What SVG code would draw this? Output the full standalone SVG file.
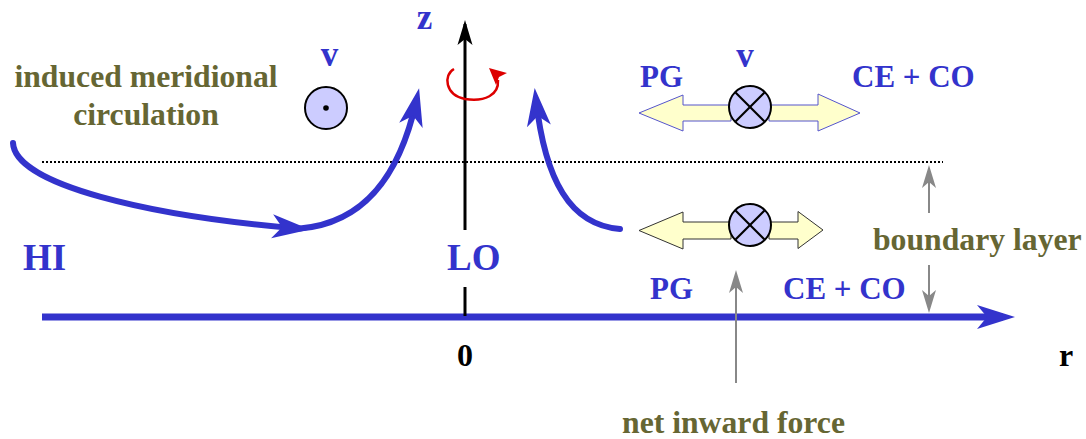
<svg xmlns="http://www.w3.org/2000/svg" width="1086" height="439" viewBox="0 0 1086 439">
<style>
text{font-family:"Liberation Serif","Times New Roman",serif;font-weight:bold}
.olive{fill:#666633;font-size:31.7px}
.blue{fill:#3333cc;font-size:31px}
.big{fill:#3333cc;font-size:37px}
.sym{fill:#3333cc;font-size:35px}
.blk{fill:#000;font-size:32px}
.flow{fill:none;stroke:#3333cc;stroke-width:6;stroke-linecap:round}
.gray{fill:none;stroke:#888;stroke-width:2}
.vel{fill:#ccccff;stroke:#000;stroke-width:2}
.cross{stroke:#000;stroke-width:2.2}
.arT{fill:#ffffcc;stroke:#5555cc;stroke-width:1}
.arB{fill:#ffffcc;stroke:#333;stroke-width:1}
</style>
<defs>
<marker id="bh" markerUnits="userSpaceOnUse" orient="auto" markerWidth="40" markerHeight="30" refX="0" refY="0" overflow="visible">
<path d="M12,0 L-26,-12 L-16,0 L-26,12 Z" fill="#3333cc"/>
</marker>
<marker id="kh" markerUnits="userSpaceOnUse" orient="auto" markerWidth="30" markerHeight="20" refX="0" refY="0" overflow="visible">
<path d="M4,0 L-21,-7.5 L-15,0 L-21,7.5 Z" fill="#000"/>
</marker>
<marker id="gh" markerUnits="userSpaceOnUse" orient="auto" markerWidth="30" markerHeight="20" refX="0" refY="0" overflow="visible">
<path d="M3,0 L-20,-7 L-14,0 L-20,7 Z" fill="#888"/>
</marker>
</defs>
<rect width="1086" height="439" fill="#fff"/>

<g id="connectors">
<line x1="42" y1="162" x2="943" y2="162" stroke="#000" stroke-width="2" stroke-dasharray="2,2"/>
<line id="r-axis" x1="42" y1="317" x2="1003" y2="317" stroke="#3333cc" stroke-width="7" marker-end="url(#bh)"/>
<line id="z-axis" x1="465" y1="230" x2="465" y2="24" stroke="#000" stroke-width="3" marker-end="url(#kh)"/>
<line x1="465" y1="287" x2="465" y2="316" stroke="#000" stroke-width="3"/>
<path class="flow" d="M13,143 C15,185 150,216 298,228.5" marker-end="url(#bh)"/>
<path class="flow" d="M300,228.5 C365,223 400,175 416.5,100" marker-end="url(#bh)"/>
<path class="flow" d="M620,229 C570,225 545,180 536,100" marker-end="url(#bh)"/>
<path d="M454,69 C443,75 445,95 465,99 C485,102 499,95 498,80" fill="none" stroke="#dd0000" stroke-width="2.5"/>
<polygon points="489,68 507,73 499,77 496,85" fill="#dd0000"/>
<line class="gray" x1="929" y1="213" x2="929" y2="168" marker-end="url(#gh)"/>
<line class="gray" x1="929" y1="265" x2="929" y2="310" marker-end="url(#gh)"/>
<line class="gray" x1="736" y1="383" x2="736" y2="273" marker-end="url(#gh)"/>
</g>

<g id="label-circulation">
<text class="olive" x="146" y="87" text-anchor="middle">induced meridional</text>
<text class="olive" x="146" y="125" text-anchor="middle">circulation</text>
</g>

<g id="node-v-out">
<text class="sym" x="329.5" y="66" text-anchor="middle">v</text>
<circle class="vel" cx="326" cy="108" r="21"/>
<circle cx="326" cy="108" r="2.8" fill="#000"/>
</g>

<g id="label-z"><text class="sym" x="424.5" y="29" text-anchor="middle">z</text></g>

<g id="node-forces-top">
<text class="blue" x="640" y="87">PG</text>
<text class="sym" x="745" y="67" text-anchor="middle">v</text>
<text class="blue" x="852" y="87">CE + CO</text>
<polygon class="arT" points="639,113 683,95 683,105 731,105 731,121 683,121 683,131"/>
<polygon class="arT" points="769,105 818,105 818,94 860,113 818,131 818,121 769,121"/>
<circle class="vel" cx="750" cy="107" r="21"/>
<line class="cross" x1="735.5" y1="92.5" x2="764.5" y2="121.5"/>
<line class="cross" x1="764.5" y1="92.5" x2="735.5" y2="121.5"/>
</g>

<g id="node-forces-bottom">
<polygon class="arB" points="639,230.5 683,212 683,222 731,222 731,239 683,239 683,249"/>
<polygon class="arB" points="769,222 798,222 798,211.5 823,230 798,248.5 798,239 769,239"/>
<circle class="vel" cx="750" cy="225" r="21"/>
<line class="cross" x1="735.5" y1="210.5" x2="764.5" y2="239.5"/>
<line class="cross" x1="764.5" y1="210.5" x2="735.5" y2="239.5"/>
<text class="blue" x="650" y="299">PG</text>
<text class="blue" x="783" y="299">CE + CO</text>
</g>

<g id="label-HI"><text class="big" x="23" y="270">HI</text></g>
<g id="label-LO"><text class="big" x="447" y="270">LO</text></g>
<g id="label-boundary"><text class="olive" x="873" y="250">boundary layer</text></g>
<g id="label-0"><text class="blk" x="465" y="366" text-anchor="middle">0</text></g>
<g id="label-r"><text class="blk" x="1066" y="366" text-anchor="middle" font-size="36">r</text></g>
<g id="label-net"><text class="olive" x="733.5" y="433" text-anchor="middle">net inward force</text></g>
</svg>
